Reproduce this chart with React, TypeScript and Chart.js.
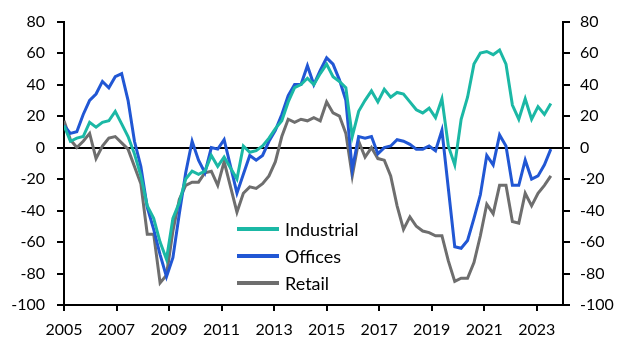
import React, { useEffect, useRef } from "react";
import { Chart, registerables } from "chart.js";

Chart.register(...registerables);

// Quarterly balances, 2005 onwards (77 observations)
const industrial = [
  14, 4, 6, 7, 16, 13, 16, 17, 23, 15, 7, -4, -18, -37, -45, -60, -71,
  -45, -35, -20, -15, -17, -15, -5, -12, -6, -13, -20, 1, -3, -2, 1, 6,
  12, 17, 29, 38, 40, 44, 40, 47, 53, 45, 42, 38, 7,
  23, 30, 36, 29, 37, 32, 35, 34, 29, 24, 22, 25, 19, 31, 1, -11, 18, 32,
  53, 60, 61, 59, 62, 53, 27, 18, 31, 18, 26, 21, 28,
];

const offices = [
  14, 9, 10, 21, 30, 34, 42, 38, 45, 47, 30, 4, -12, -38, -52, -68, -82,
  -70, -42, -16, 4, -8, -16, 0, -1, 5, -12, -29, -17, -5, -8, -5, 4,
  11, 21, 33, 40, 40, 52, 40, 49, 57, 53, 43, 30, -14,
  7, 6, 7, -4, 0, 1, 5, 4, 2, -1, -1, 1, -2, 11, -26, -63, -64, -59,
  -45, -30, -5, -11, 8, 1, -24, -24, -8, -20, -18, -11, -1,
];

const retail = [
  17, 5, 0, 4, 9, -7, 1, 6, 7, 3, -1, -12, -23, -55, -55, -86, -81,
  -53, -33, -24, -22, -22, -16, -15, -24, -9, -25, -41, -29, -25, -26, -23, -18,
  -9, 7, 18, 16, 18, 17, 19, 17, 29, 22, 20, 9, -18,
  4, -6, 0, -7, -8, -18, -37, -52, -44, -50, -53, -54, -56, -56, -72, -85, -83, -83,
  -73, -56, -36, -42, -24, -24, -47, -48, -29, -37, -29, -24, -18,
];

const seriesNames = ["Industrial", "Offices", "Retail"];
const seriesColors = ["#1BB8A5", "#2157D4", "#6E6E6E"];

const xTickYears = [2005, 2007, 2009, 2011, 2013, 2015, 2017, 2019, 2021, 2023];
const yTickValues = [-100, -80, -60, -40, -20, 0, 20, 40, 60, 80];

const firstYear = 2005;
const yearsPerPoint = 0.2439;

const FONT = "Lato, 'Open Sans', sans-serif";

export default function App() {
  const ref = useRef<HTMLCanvasElement | null>(null);

  useEffect(() => {
    if (!ref.current) return;
    const toPoints = (arr: number[]) =>
      arr.map((v, i) => ({ x: firstYear + i * yearsPerPoint, y: v }));
    const seriesValues = [industrial, offices, retail];

    const legendPlugin = {
      id: "inlineLegend",
      afterDatasetsDraw(chart: any) {
        const ctx = chart.ctx;
        ctx.save();
        chart.data.datasets.forEach((ds: any, i: number) => {
          const y = 229 + i * 27;
          ctx.strokeStyle = ds.borderColor;
          ctx.lineWidth = 4;
          ctx.lineCap = "butt";
          ctx.beginPath();
          ctx.moveTo(237, y);
          ctx.lineTo(279, y);
          ctx.stroke();
          ctx.fillStyle = "#000";
          ctx.font = `18px ${FONT}`;
          ctx.textBaseline = "middle";
          ctx.textAlign = "left";
          ctx.fillText(ds.label, 285, y + 1);
        });
        ctx.restore();
      },
    };

    const yAxisBase = (side: "left" | "right") => ({
      type: "linear" as const,
      position: side,
      min: -100,
      max: 80,
      afterBuildTicks: (s: any) => {
        s.ticks = yTickValues.map((v) => ({ value: v }));
      },
      grid: {
        drawOnChartArea: side === "left",
        drawTicks: true,
        tickLength: 7,
        lineWidth: 2,
        color: (c: any) =>
          c.tick && c.tick.value === 0 ? "#000" : "rgba(0,0,0,0)",
        tickColor: "#000",
      },
      border: { display: true, color: "#000", width: 2 },
      ticks: {
        color: "#000",
        font: { size: 16, family: FONT },
        padding: side === "left" ? 12 : 10,
        callback: (v: any) => String(v),
      },
      afterFit: (s: any) => {
        s.width = side === "left" ? 64 : 66;
      },
    });

    const chart = new Chart(ref.current, {
      type: "line",
      data: {
        datasets: seriesValues.map((vals, i) => ({
          label: seriesNames[i],
          data: toPoints(vals),
          borderColor: seriesColors[i],
          backgroundColor: seriesColors[i],
          borderWidth: 3,
          pointRadius: 0,
          tension: 0,
          fill: false,
          yAxisID: "y",
        })),
      },
      options: {
        animation: false,
        responsive: false,
        layout: { padding: { top: 16, left: 0, right: 0, bottom: 0 } },
        plugins: {
          legend: { display: false },
          tooltip: { enabled: false },
        },
        scales: {
          x: {
            type: "linear",
            position: "bottom",
            min: 2005,
            max: 2024,
            afterBuildTicks: (s: any) => {
              s.ticks = xTickYears.map((v) => ({ value: v }));
            },
            grid: {
              drawOnChartArea: false,
              drawTicks: true,
              tickLength: 6,
              lineWidth: 2,
              color: "#000",
              tickColor: "#000",
            },
            border: { display: true, color: "#000", width: 2 },
            ticks: {
              color: "#000",
              font: { size: 16, family: FONT },
              padding: 9,
              autoSkip: false,
              maxRotation: 0,
              callback: (v: any) => String(v),
            },
            afterFit: (s: any) => {
              s.height = 43;
            },
          },
          y: yAxisBase("left"),
          y2: yAxisBase("right"),
        },
      } as any,
      plugins: [legendPlugin],
    });

    return () => chart.destroy();
  }, []);

  return (
    <div
      style={{
        position: "fixed",
        left: 0,
        top: 0,
        width: 629,
        height: 348,
        background: "#fff",
      }}
    >
      <canvas ref={ref} width={629} height={348} style={{ display: "block" }} />
    </div>
  );
}
